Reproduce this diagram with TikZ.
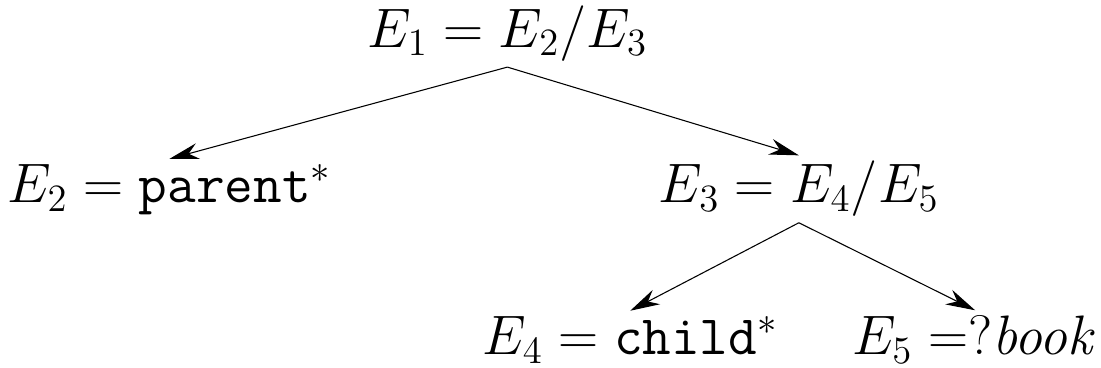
\documentclass[tikz,border=0pt]{standalone}
\usepackage{amsmath}
\usepackage{tikz}
\usetikzlibrary{positioning,arrows.meta}

\begin{document}
\begin{tikzpicture}[font=\huge, x=1cm, y=1cm, inner sep=2pt,
  expr/.style={anchor=base},
  edge/.style={-{Stealth[length=11pt,width=6pt]}}]
\useasboundingbox (0,0) rectangle (14.43,4.82);
% expression tree
\node[expr] (e1) at (6.65,4.20) {$E_1 = E_2/E_3$};
\node[expr] (e2) at (2.22,2.16) {$E_2 = \texttt{parent}^*$};
\node[expr] (e3) at (10.47,2.16) {$E_3 = E_4/E_5$};
\node[expr] (e4) at (8.26,0.17) {$E_4 = \texttt{child}^*$};
\node[expr] (e5) at (12.78,0.17) {$E_5 \mathrel{{=}{?}}\mkern-5mu\mathit{book}$};
% edges
\draw[edge] (e1.south) -- (e2.north);
\draw[edge] (e1.south) -- (e3.north);
\draw[edge] (e3.south) -- (e4.north);
\draw[edge] (e3.south) -- (e5.north);
\end{tikzpicture}
\end{document}
